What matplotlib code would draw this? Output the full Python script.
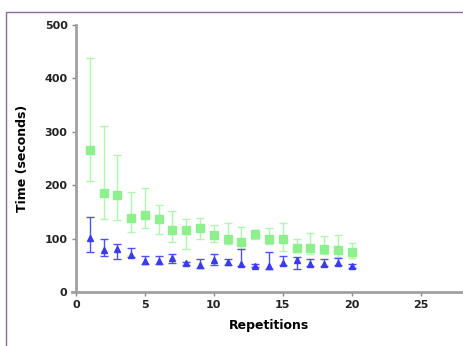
import matplotlib.pyplot as plt
import numpy as np
from matplotlib.patches import Rectangle

reps = list(range(1, 21))

# green squares: mean, top of error bar, bottom of error bar
green_mean = [266, 186, 181, 139, 145, 137, 117, 116, 119, 106,
              99, 94, 109, 99, 99, 82, 83, 80, 79, 75]
green_top = [438, 311, 256, 188, 194, 163, 152, 137, 139, 125,
             130, 122, 117, 119, 130, 100, 111, 105, 107, 92]
green_bot = [208, 137, 134, 112, 119, 108, 93, 80, 99, 94,
             90, 80, 100, 89, 77, 74, 71, 71, 65, 64]

# blue triangles
blue_mean = [101, 78, 80, 70, 59, 58, 63, 54, 51, 60,
             56, 53, 49, 48, 55, 60, 53, 53, 55, 48]
blue_top = [140, 99, 90, 83, 67, 67, 72, 57, 61, 72,
            61, 80, 52, 74, 67, 66, 61, 62, 64, 52]
blue_bot = [74, 67, 62, 65, 52, 52, 54, 51, 45, 51,
            51, 48, 46, 43, 50, 44, 48, 48, 50, 45]

green = '#8cf08c'
blue = '#3a3af2'

fig = plt.figure(figsize=(4.63, 3.46), dpi=100)
ax = fig.add_axes([0.164, 0.156, 0.834, 0.772])

gm = np.array(green_mean)
bm = np.array(blue_mean)
ax.errorbar(reps, gm, yerr=[gm - np.array(green_bot), np.array(green_top) - gm],
            fmt='s', color=green, ms=5.5, ecolor='#b0f5b0', elinewidth=1.0,
            capsize=3, capthick=1.0, zorder=2)
ax.errorbar(reps, bm, yerr=[bm - np.array(blue_bot), np.array(blue_top) - bm],
            fmt='^', color=blue, ms=5, ecolor='#5050f0', elinewidth=1.0,
            capsize=3, capthick=1.0, zorder=3)

ax.set_xlim(0, 28)
ax.set_ylim(0, 500)
ax.set_xticks([0, 5, 10, 15, 20, 25])
ax.set_yticks([0, 100, 200, 300, 400, 500])

for s in ['top', 'right']:
    ax.spines[s].set_visible(False)
for s in ['left', 'bottom']:
    ax.spines[s].set_color('#a0a0a0')
    ax.spines[s].set_linewidth(2.0)
ax.spines['bottom'].set_bounds(-0.3, 28)
ax.tick_params(direction='out', length=3, width=1, color='#888888',
               labelsize=8, pad=3)
for lab in ax.get_xticklabels() + ax.get_yticklabels():
    lab.set_fontweight('bold')
    lab.set_color('#222222')

ax.set_ylabel('Time (seconds)', fontsize=9, fontweight='bold', labelpad=11)
ax.set_xlabel('Repetitions', fontsize=9, fontweight='bold', labelpad=6)

fig.patches.append(Rectangle((6 / 463, -0.1), 1.2, (346 - 12) / 346 + 0.1,
                             transform=fig.transFigure, fill=False,
                             edgecolor='#8a6a9a', linewidth=1.0))

fig.savefig('out.png', dpi=100)
